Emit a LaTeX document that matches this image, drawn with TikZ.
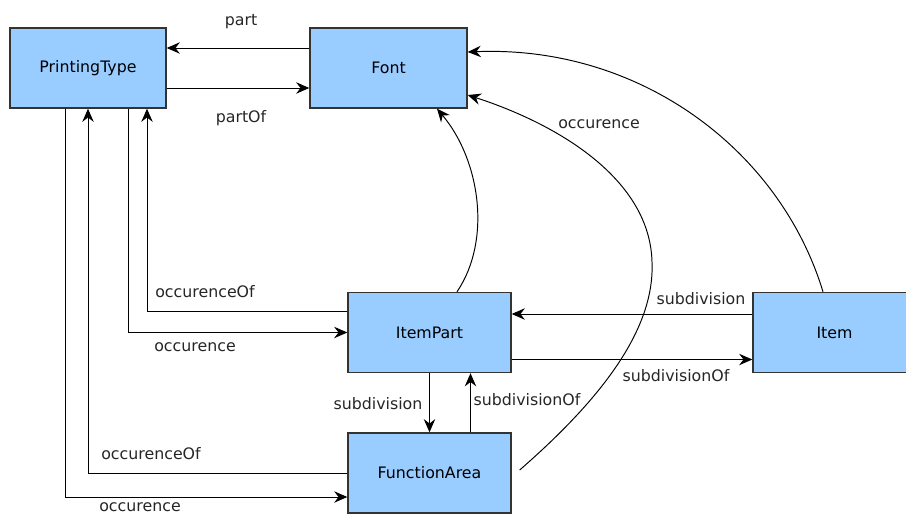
\documentclass[tikz,border=0pt]{standalone}
\usepackage{fontspec}
\setmainfont{DejaVu Sans}
\usepackage{xcolor}
\usepackage{tikz}
\usetikzlibrary{positioning, arrows.meta, calc}
\definecolor{boxblue}{HTML}{99CCFF}
\definecolor{boxline}{HTML}{333333}

\begin{document}
\begin{tikzpicture}[
        x=0.02cm, y=-0.02cm,
        every node/.style={font=\fontsize{9}{10.5}\selectfont},
        entity/.style={rectangle, draw=boxline, fill=boxblue, line width=0.8pt, minimum height=1.6cm, inner sep=0pt},
        lbl/.style={inner sep=0pt, text=black!85},
        arr/.style={draw, line width=0.55pt, -{Stealth[length=7.5pt, width=6.5pt, inset=2.5pt]}}
    ]
    \useasboundingbox (0,0) rectangle (906,514);
    \node[entity, minimum width=3.12cm] (printingtype) at (88,68) {PrintingType};
    \node[entity, minimum width=3.14cm] (font) at (388.5,68) {Font};
    \node[entity, minimum width=3.26cm] (itempart) at (429.5,332.5) {ItemPart};
    \node[entity, minimum width=3.26cm] (functionarea) at (429.5,473) {FunctionArea};
    \node[entity, minimum width=3.26cm] (item) at (834.5,332.5) {Item};

    \draw[arr] ($(font.west)+(0,-20)$) -- ($(printingtype.east)+(0,-20)$);
    \draw[arr] ($(printingtype.east)+(0,20)$) -- ($(font.west)+(0,20)$);

    \draw[arr] ($(printingtype.south)+(-23,0)$) |- ($(functionarea.west)+(0,24)$);
    \draw[arr] (functionarea.west) -| (printingtype.south);
    \draw[arr] ($(printingtype.south)+(40,0)$) |- (itempart.west);
    \draw[arr] ($(itempart.west)+(0,-21)$) -| ($(printingtype.south)+(59,0)$);

    \draw[arr] (itempart.south) -- (functionarea.north);
    \draw[arr] ($(functionarea.north)+(41,0)$) -- ($(itempart.south)+(41,0)$);

    \draw[arr] ($(item.west)+(0,-18.5)$) -- ($(itempart.east)+(0,-18.5)$);
    \draw[arr] ($(itempart.east)+(0,27)$) -- ($(item.west)+(0,27)$);

    \draw[arr] ($(itempart.north)+(27.5,0)$) .. controls (492,240) and (480,160) .. ($(font.south)+(48.5,0)$);
    \draw[arr] ($(functionarea.east)+(8,-3)$) .. controls (600,400) and (655,330) .. (652,262)
        .. controls (650,180) and (560,125) .. ($(font.east)+(0,27)$);
    \draw[arr] ($(item.north)+(-11.5,0)$) .. controls (780,150) and (640,45) .. ($(font.east)+(0,-16)$);

    \node[lbl] (lpart) at (241,22) {part};
    \node[lbl] (lpartof) at (241,118) {partOf};
    \node[lbl] (lfontocc) at (599,124) {occurence};
    \node[lbl] (lipoccof) at (205,292) {occurenceOf};
    \node[lbl] (lipocc) at (195,347) {occurence};
    \node[lbl] (lfasub) at (378,404) {subdivision};
    \node[lbl] (lfasubof) at (527,400) {subdivisionOf};
    \node[lbl] (litemsub) at (701,299) {subdivision};
    \node[lbl] (litemsubof) at (676,376) {subdivisionOf};
    \node[lbl] (lfaoccof) at (151,454) {occurenceOf};
    \node[lbl] (lfaocc) at (140,507) {occurence};
\end{tikzpicture}
\end{document}
